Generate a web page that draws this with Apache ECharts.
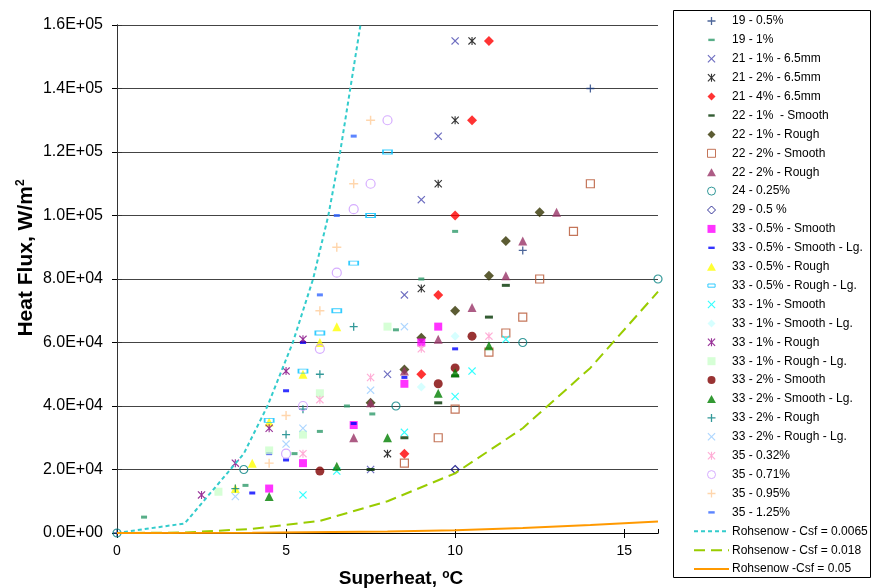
<!DOCTYPE html>
<html>
<head>
<meta charset="utf-8">
<script src="https://cdn.jsdelivr.net/npm/echarts@6/dist/echarts.min.js"></script>
<style>
  html, body { margin: 0; padding: 0; background: #fff; }
  #chart-div { width: 872px; height: 588px; }
</style>
</head>
<body>
<div id="chart-div"></div>
<script>
// tick labels
const xTicks = [0, 5, 10, 15]
const yTicks = [0, 20000, 40000, 60000, 80000, 100000, 120000, 140000, 160000]

// measured points [superheat, heat flux]
const s19_05 = [[0, 0], [12, 89000], [14, 140000]]
const s19_1 = [[0.8, 5000], [3.8, 15000], [5.25, 25000], [6, 32000], [6.8, 40000], [7.55, 37500], [8.25, 64000], [9, 80000], [10, 95000]]
const s21_1 = [[7.5, 20000], [8, 50000], [8.5, 75000], [9, 105000], [9.5, 125000], [10, 155000]]
const s21_2 = [[8, 25000], [9, 77000], [9.5, 110000], [10, 130000], [10.5, 155000]]
const s21_4 = [[8.5, 25000], [9, 50000], [9.5, 75000], [10, 100000], [10.5, 130000], [11, 155000]]
const s22_1s = [[7.5, 20000], [8.5, 30000], [9.5, 41000], [10, 49500], [11, 68000], [11.5, 78000]]
const s22_1r = [[7.5, 41000], [8.5, 51500], [9, 61500], [10, 70000], [11, 81000], [11.5, 92000], [12.5, 101000]]
const s22_2s = [[8.5, 22000], [9.5, 30000], [10, 39000], [11, 57000], [11.5, 63000], [12, 68000], [12.5, 80000], [13.5, 95000], [14, 110000]]
const s22_2r = [[7, 30000], [7.5, 41000], [8.5, 51000], [9.5, 61000], [10.5, 71000], [11.5, 81000], [12, 92000], [13, 101000]]
const s24 = [[0, 0], [3.75, 20000], [8.25, 40000], [12, 60000], [16, 80000]]
const s29 = [[10, 20000]]
const s33_05s = [[4.5, 14000], [5.5, 22000], [7, 34000], [8.5, 47000], [9, 60000], [9.5, 65000]]
const s33_05sl = [[4, 12600], [4.5, 25000], [5, 23000], [5, 44800], [5.5, 60000], [7, 34500], [8.5, 49000], [10, 58000]]
const s33_05r = [[3.5, 14000], [4, 22000], [4.5, 35000], [5.5, 50000], [6, 60000], [6.5, 65000]]
const s33_05rl = [[4.5, 35500], [5.5, 51000], [6, 63000], [6.5, 70000], [7, 85000], [7.5, 100000], [8, 120000]]
const s33_1s = [[5.5, 12000], [6.5, 19500], [8.5, 31700], [10, 43000], [10.5, 51000], [11.5, 61000]]
const s33_1sl = [[9, 46000], [10, 62000]]
const s33_1r = [[2.5, 12000], [3.5, 22000], [4.5, 33000], [5, 51000], [5.5, 61000]]
const s33_1rl = [[3, 13000], [4.5, 26000], [5.5, 31000], [6, 44000], [8, 65000]]
const s33_2s = [[6, 19500], [9.5, 47000], [10, 52000], [10.5, 62000]]
const s33_2sl = [[4.5, 11500], [6.5, 21000], [8, 30000], [9.5, 44000], [10, 50500], [11, 59000]]
const s33_2r = [[3.5, 14000], [5, 31000], [5.5, 39000], [6, 50000], [7, 65000]]
const s33_2rl = [[3.5, 11500], [5, 28000], [5.5, 33000], [7.5, 45000], [8.5, 65000]]
const s35_032 = [[5.5, 25000], [6, 42000], [7.5, 49000], [9, 58000], [11, 62000]]
const s35_071 = [[5, 25000], [5.5, 40000], [6, 58000], [6.5, 82000], [7, 102000], [7.5, 110000], [8, 130000]]
const s35_095 = [[4.5, 22000], [5, 37000], [6, 70000], [6.5, 90000], [7, 110000], [7.5, 130000]]
const s35_125 = [[6, 75000], [6.5, 100000], [7, 125000]]

// Rohsenow curves
const rohs0065 = [[0, 0], [2, 3000], [3.75, 25000], [4.45, 40000], [5.2, 60000], [5.8, 80000], [6.25, 100000], [6.6, 120000], [6.9, 140000], [7.2, 160000]]
const rohs018 = [[0, 0], [2, 150], [4, 1300], [6, 3800], [8, 10000], [10, 18800], [12, 33000], [14, 52000], [16, 76000]]
const rohs05 = [[0, 0], [4, 60], [8, 470], [10, 900], [12, 1600], [14, 2500], [16, 3600]]

// marker shapes
const PLUS = 'path://M4.2,0H5.8V4.2H10V5.8H5.8V10H4.2V5.8H0V4.2H4.2Z'
const CROSS = 'path://M0,1L1,0L5,4L9,0L10,1L6,5L10,9L9,10L5,6L1,10L0,9L4,5Z'
const STAR = CROSS + 'M4.3,0H5.7V10H4.3Z'
const SQUARE = 'path://M0,0H10V10H0Z'
const DIAMOND = 'path://M5,0L10,5L5,10L0,5Z'
const TRIANGLE = 'path://M5,0L10,9L0,9Z'
const DASH_ICON = 'path://M0,0M10,10M1,3.5H9V6.5H1Z'
const BOX_ICON = 'path://M0,0M10,10M0.5,3H9.5V7H0.5Z'

const FONT = 'Liberation Sans, Arial, sans-serif'

function pts(name, data, symbol, size, color, hollow, icon) {
    return {
        name: name,
        type: 'scatter',
        data: data,
        symbol: symbol,
        symbolSize: size,
        clip: false,
        itemStyle: hollow
            ? { color: 'rgba(0,0,0,0)', borderColor: color, borderWidth: 1.2 }
            : { color: color },
        legendIcon: icon
    }
}

function curve(name, data, color, dash) {
    return {
        name: name,
        type: 'line',
        data: data,
        symbol: 'none',
        lineStyle: { color: color, width: 2, type: dash },
        itemStyle: { color: color }
    }
}

const series = [
    pts('19 - 0.5%', s19_05, PLUS, 8, '#1f3f80'),
    pts('19 - 1%', s19_1, 'rect', [6, 3], '#2e9a6a', false, DASH_ICON),
    pts('21 - 1% - 6.5mm', s21_1, CROSS, 8, '#4848b0'),
    pts('21 - 2% - 6.5mm', s21_2, STAR, 8, '#000000'),
    pts('21 - 4% - 6.5mm', s21_4, DIAMOND, 10, '#ff0000'),
    pts('22 - 1%  - Smooth', s22_1s, 'rect', [8, 3], '#003300', false, DASH_ICON),
    pts('22 - 1% - Rough', s22_1r, DIAMOND, 10, '#333300'),
    pts('22 - 2% - Smooth', s22_2s, SQUARE, 8, '#b5532f', true),
    pts('22 - 2% - Rough', s22_2r, TRIANGLE, 9, '#993366'),
    pts('24 - 0.25%', s24, 'circle', 8, '#008080', true),
    pts('29 - 0.5 %', s29, DIAMOND, 8, '#000080', true),
    pts('33 - 0.5% - Smooth', s33_05s, SQUARE, 8, '#ff00ff'),
    pts('33 - 0.5% - Smooth - Lg.', s33_05sl, 'rect', [6, 3], '#0000ff', false, DASH_ICON),
    pts('33 - 0.5% - Rough', s33_05r, TRIANGLE, 9, '#ffff00'),
    pts('33 - 0.5% - Rough - Lg.', s33_05rl, 'rect', [9, 4], '#00bfff', true, BOX_ICON),
    pts('33 - 1% - Smooth', s33_1s, CROSS, 8, '#00ffff'),
    pts('33 - 1% - Smooth - Lg.', s33_1sl, DIAMOND, 9, '#ccffff'),
    pts('33 - 1% - Rough', s33_1r, STAR, 8, '#800080'),
    pts('33 - 1% - Rough - Lg.', s33_1rl, SQUARE, 8, '#ccffcc'),
    pts('33 - 2% - Smooth', s33_2s, 'circle', 9, '#800000'),
    pts('33 - 2% - Smooth - Lg.', s33_2sl, TRIANGLE, 9, '#008000'),
    pts('33 - 2% - Rough', s33_2r, PLUS, 8, '#008080'),
    pts('33 - 2% - Rough - Lg.', s33_2rl, CROSS, 8, '#99ccff'),
    pts('35 - 0.32%', s35_032, STAR, 8, '#ff99cc'),
    pts('35 - 0.71%', s35_071, 'circle', 9, '#cc99ff', true),
    pts('35 - 0.95%', s35_095, PLUS, 9, '#ffcc99'),
    pts('35 - 1.25%', s35_125, 'rect', [6, 3], '#3366ff', false, DASH_ICON),
    curve('Rohsenow - Csf = 0.0065', rohs0065, '#33cccc', [4, 3]),
    curve('Rohsenow - Csf = 0.018', rohs018, '#99cc00', [11, 6]),
    curve('Rohsenow -Csf = 0.05', rohs05, '#ff9900', 'solid')
]

function sci(v) {
    if (v === 0) return '0.0E+00'
    const e = Math.floor(Math.log10(v) + 1e-9)
    return (v / Math.pow(10, e)).toFixed(1) + 'E+' + String(e).padStart(2, '0')
}

// legend entries: own icon for the dash markers, no dot on the curves
const legendData = series.map(s => {
    if (s.type === 'line') return { name: s.name, itemStyle: { opacity: 0 } }
    return s.legendIcon ? { name: s.name, icon: s.legendIcon } : { name: s.name }
})

let myChart = echarts.init(document.getElementById('chart-div'), null, { renderer: 'canvas' })

const option = {
    animation: false,
    backgroundColor: '#fff',
    textStyle: { fontFamily: FONT },
    grid: { left: 117, right: 214, top: 25, bottom: 55 },
    legend: {
        orient: 'vertical',
        left: 693,
        top: 15,
        padding: 0,
        itemWidth: 35,
        itemHeight: 8,
        itemGap: 6.9,
        itemStyle: { borderWidth: 1 },
        textStyle: { fontSize: 12, color: '#000', fontFamily: FONT, padding: [0, 0, 0, -2] },
        data: legendData
    },
    xAxis: [{
        type: 'value', min: 0, max: 16, interval: 5,
        axisLine: { lineStyle: { color: '#000' } },
        axisTick: { length: 5, lineStyle: { color: '#000' } },
        axisLabel: { color: '#000', fontSize: 14, margin: 11, showMaxLabel: false,
            formatter: v => xTicks.includes(v) ? String(v) : '' },
        splitLine: { show: false }
    }, {
        type: 'value', position: 'top', min: 0, max: 16, interval: 5,
        axisLine: { lineStyle: { color: '#000' } },
        axisTick: { length: 4, lineStyle: { color: '#000' } },
        axisLabel: { show: false },
        splitLine: { show: false }
    }],
    yAxis: [{
        type: 'value', min: 0, max: 160000, interval: 20000,
        axisLine: { show: true, lineStyle: { color: '#000' } },
        axisTick: { show: true, length: 5, lineStyle: { color: '#000' } },
        axisLabel: { color: '#000', fontSize: 16, margin: 14,
            formatter: v => yTicks.includes(v) ? sci(v) : '' },
        splitLine: { show: true, lineStyle: { color: '#444', width: 1.2 } }
    }, {
        type: 'value', position: 'right', min: 0, max: 160000, interval: 20000,
        axisLine: { show: true, lineStyle: { color: '#333' } },
        axisTick: { show: true, length: 5, lineStyle: { color: '#333' } },
        axisLabel: { show: false },
        splitLine: { show: false }
    }],
    graphic: [{
        type: 'rect',
        shape: { x: 673.5, y: 10.5, width: 197, height: 567 },
        style: { fill: 'none', stroke: '#000', lineWidth: 1 }
    }, {
        type: 'text',
        x: 26, y: 258,
        rotation: Math.PI / 2,
        style: {
            text: '{a|Heat Flux, W/m}{b|2}',
            align: 'center', verticalAlign: 'middle',
            rich: {
                a: { fontSize: 21, fontWeight: 'bold', fontFamily: FONT, fill: '#000' },
                b: { fontSize: 12, fontWeight: 'bold', fontFamily: FONT, fill: '#000', padding: [0, 0, 10, 0] }
            }
        }
    }, {
        type: 'text',
        x: 401, y: 579,
        style: {
            text: '{a|Superheat, }{b|o}{a|C}',
            align: 'center', verticalAlign: 'middle',
            rich: {
                a: { fontSize: 19, fontWeight: 'bold', fontFamily: FONT, fill: '#000' },
                b: { fontSize: 12, fontWeight: 'bold', fontFamily: FONT, fill: '#000', padding: [0, 0, 9, 0] }
            }
        }
    }],
    series: series.map(s => {
        const c = Object.assign({}, s)
        delete c.legendIcon
        if (c.type === 'scatter') c.yAxisIndex = 0
        return c
    })
}

myChart.setOption(option)
</script>
</body>
</html>
